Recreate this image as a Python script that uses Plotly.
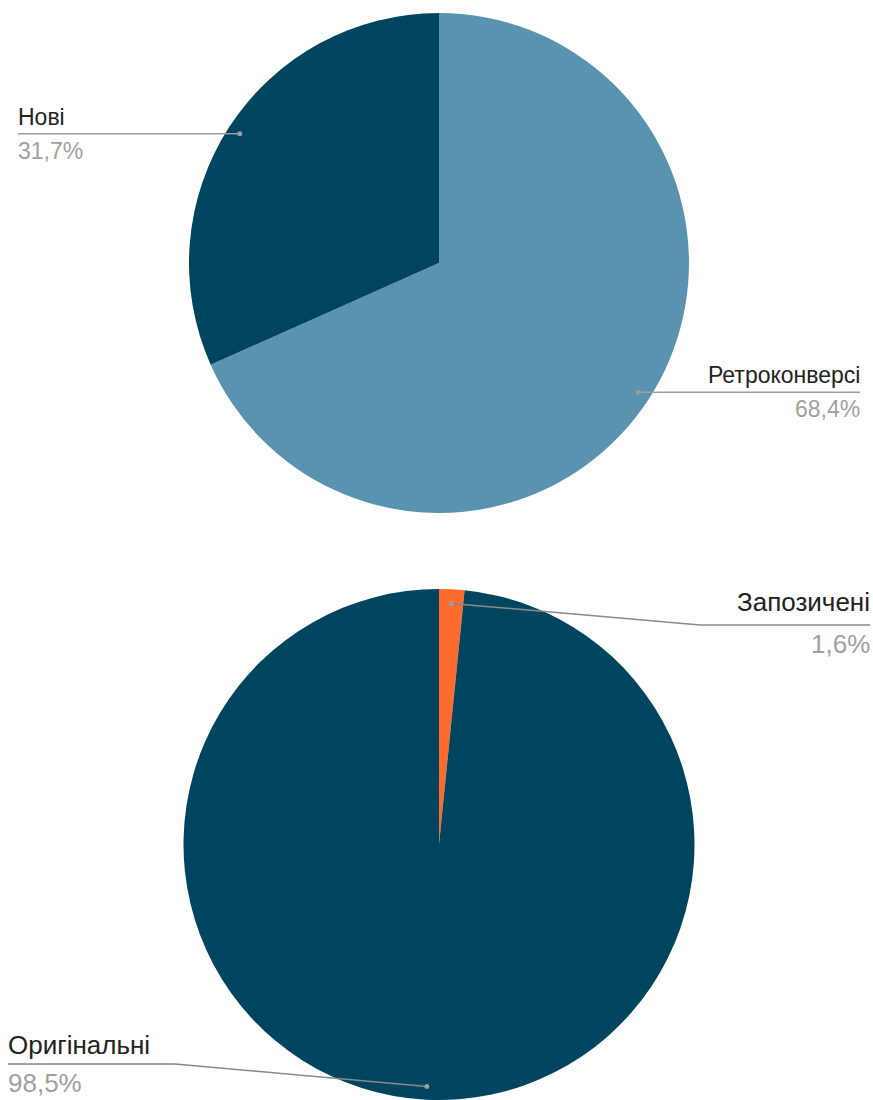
import numpy as np
import plotly.graph_objects as go

W, H = 873, 1100

# top chart
top_labels = ["Ретроконверсі", "Нові"]
top_values = [68.4, 31.7]
top_colors = ["#5A93B0", "#00455F"]

# bottom chart
bot_labels = ["Запозичені", "Оригінальні"]
bot_values = [1.6, 98.5]
bot_colors = ["#FF6B2C", "#00455F"]

# pixel geometry of each pie (centre x, centre y, radius)
top_geo = (439, 263, 250)
bot_geo = (439, 845, 256)

LINE_COL = "#9E9E9E"
TEXT_COL = "#222222"
PCT_COL = "#A0A0A0"
FONT = "Liberation Sans, Arial, sans-serif"


def px(x):
    return x / W


def py(y):
    return 1 - y / H


def domain(geo):
    cx, cy, r = geo
    return dict(x=[px(cx - r), px(cx + r)],
                y=[max(0, py(cy + r)), min(1, py(cy - r))])


def mid_points(values, geo, frac=0.95):
    # clockwise from 12 o'clock, as drawn by the pie
    cx, cy, r = geo
    v = np.array(values, dtype=float)
    cum = np.cumsum(v) - v / 2
    ang = cum / v.sum() * 2 * np.pi
    return cx + frac * r * np.sin(ang), cy - frac * r * np.cos(ang)


fig = go.Figure()

for labels, values, colors, geo in [(top_labels, top_values, top_colors, top_geo),
                                    (bot_labels, bot_values, bot_colors, bot_geo)]:
    fig.add_trace(go.Pie(
        labels=labels, values=values, sort=False, direction="clockwise", rotation=0,
        marker=dict(colors=colors, line=dict(width=0)),
        textinfo="none", hoverinfo="label+percent", showlegend=False,
        domain=domain(geo),
    ))

shapes = []
annotations = []


def add_label(dot, label, value, line_y, end_x, bend_x=None, size=23, gap=2, line_col=LINE_COL):
    dx, dy = dot
    right = end_x > dx
    if bend_x is None:
        pts = [(dx, dy), (end_x, line_y)]
    else:
        pts = [(dx, dy), (bend_x, line_y), (end_x, line_y)]
    for (x0, y0), (x1, y1) in zip(pts[:-1], pts[1:]):
        shapes.append(dict(type="line", xref="paper", yref="paper",
                           x0=px(x0), y0=py(y0), x1=px(x1), y1=py(y1),
                           line=dict(color=line_col, width=1.5)))
    shapes.append(dict(type="circle", xref="paper", yref="paper",
                       x0=px(dx - 2.5), x1=px(dx + 2.5), y0=py(dy - 2.5), y1=py(dy + 2.5),
                       fillcolor=LINE_COL, line=dict(width=0)))
    anchor = "right" if right else "left"
    shift = 2 if right else -2
    annotations.append(dict(x=px(end_x + shift), y=py(line_y - gap), xref="paper", yref="paper",
                            text=label, showarrow=False, xanchor=anchor, yanchor="bottom",
                            font=dict(family=FONT, size=size, color=TEXT_COL)))
    annotations.append(dict(x=px(end_x + shift), y=py(line_y + 2), xref="paper", yref="paper",
                            text=f"{value:.1f}%".replace(".", ","), showarrow=False,
                            xanchor=anchor, yanchor="top",
                            font=dict(family=FONT, size=size, color=PCT_COL)))


tx, ty = mid_points(top_values, top_geo)
add_label((tx[0], ty[0]), top_labels[0], top_values[0], ty[0], 860)
add_label((tx[1], ty[1]), top_labels[1], top_values[1], ty[1], 18)

bx, by = mid_points(bot_values, bot_geo, frac=0.945)
add_label((bx[0], by[0]), bot_labels[0], bot_values[0], 625, 870, bend_x=700,
          size=26, gap=6, line_col="#8A8A8A")
add_label((bx[1], by[1]), bot_labels[1], bot_values[1], 1064, 8, bend_x=175,
          size=26, gap=2, line_col="#8A8A8A")

fig.update_layout(
    width=W, height=H,
    margin=dict(l=0, r=0, t=0, b=0),
    paper_bgcolor="white", plot_bgcolor="white",
    shapes=shapes, annotations=annotations,
    font=dict(family=FONT),
)

# the page body has a default 8px margin; drop it so the figure sits at 0,0
fig.write_html("out.html", config={"displayModeBar": False},
               post_script="document.body.style.margin='0';")
